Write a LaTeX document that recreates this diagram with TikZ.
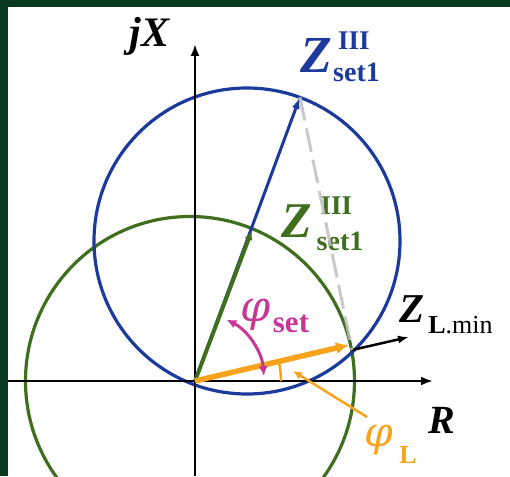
\documentclass[tikz,border=0pt]{standalone}
\usepackage{fontspec}
\setmainfont{Liberation Serif}
\newfontfamily\phifont{DejaVu Serif}
\usetikzlibrary{arrows.meta}
\definecolor{framecol}{RGB}{10,58,34}
\definecolor{zblue}{RGB}{28,58,156}
\definecolor{zgreen}{RGB}{62,110,30}
\definecolor{zorange}{RGB}{247,163,27}
\definecolor{zmag}{RGB}{200,55,150}
\definecolor{zgray}{RGB}{192,192,192}
\newcommand{\fs}[1]{\fontsize{#1}{#1}\selectfont}
\begin{document}
\begin{tikzpicture}[x=1pt,y=1pt,
  axisline/.style={line width=2.5pt,black,-{Latex[length=12pt,width=9pt]}},
  circ/.style={line width=3.2pt},
  lbl/.style={inner sep=0pt,anchor=base},
  lblc/.style={inner sep=0pt,anchor=center}]
\useasboundingbox (-195,-95) rectangle (315,381);
\fill[white] (-195,-95) rectangle (315,381);
\fill[framecol] (-195,374) rectangle (315,381);
\fill[framecol] (-195,-95) rectangle (-187,381);

% coordinates
\coordinate (O) at (0,0);
\coordinate (xs) at (-187,0);
\coordinate (xe) at (238,0);
\coordinate (ys) at (0,-95);
\coordinate (ye) at (0,337);
\coordinate (gc) at (-5,0);
\coordinate (bc) at (52,140);
\coordinate (Zb) at (105,284);
\coordinate (Zg) at (57,151);
\coordinate (I) at (157,31);
\coordinate (ZL) at (154,36);
\coordinate (Lm) at (214,44);
\coordinate (lf) at (172,-36);
\coordinate (lt) at (98,10);

% circles
\draw[circ,zgreen] (gc) circle[radius=164.5];
\draw[circ,zblue] (bc) circle[radius=153];

% axes
\draw[axisline] (xs) -- (xe);
\draw[axisline] (ys) -- (ye);

% vectors
\draw[line width=3pt,zblue,-{Latex[length=12pt,width=8pt]}] (O) -- (Zb);
\draw[line width=4pt,zgreen,-{Latex[length=10pt,width=8pt]}] (O) -- (Zg);
\draw[line width=5.5pt,zorange,-{Latex[length=13pt,width=12pt]}] (O) -- (ZL);
\draw[line width=2.5pt,black,-{Latex[length=11pt,width=8pt]}] (I) -- (Lm);

% angle arcs
\draw[line width=3pt,zmag,{Latex[length=10pt,width=9pt]}-{Latex[length=10pt,width=9pt]}]
  ([shift={(63:69)}]O) arc[start angle=63,end angle=4,radius=69];
\draw[line width=2.5pt,zorange] ([shift={(13:86)}]O) arc[start angle=13,end angle=0,radius=86];
\draw[line width=2.5pt,zorange,-{Latex[length=9pt,width=8pt]}] (lf) -- (lt);

% labels
\node[lbl] (jx) at (-45.5,334) {\fs{42}\bfseries\itshape jX};
\node[lbl,zblue] (zb) at (121,308) {\fs{52}\bfseries\itshape Z};
\node[lbl,zblue] (zbs) at (159,331) {\fs{27}\bfseries III};
\node[lbl,zblue] (zbi) at (161.5,299) {\fs{28}\bfseries set1};
\node[lbl,zgreen] (zg) at (101.5,143) {\fs{50}\bfseries\itshape Z};
\node[lbl,zgreen] (zgs) at (141.5,166) {\fs{27}\bfseries III};
\node[lbl,zgreen] (zgi) at (145,130) {\fs{28}\bfseries set1};
\node[lbl] (zl) at (217.5,59) {\fs{41}\bfseries\itshape Z};
\node[lbl] (zli) at (265.5,48) {\fs{26}{\bfseries L}.min};
\node[lblc,zmag] (ps) at (61,66) {\fs{43}\phifont\itshape φ};
\node[lbl,zmag] (psi) at (96,49) {\fs{31}\bfseries set};
\node[lblc,zorange] (pl) at (184,-59) {\fs{41}\phifont\itshape φ};
\node[lbl,zorange] (pli) at (213,-82) {\fs{26}\bfseries L};
\node[lbl] (r) at (247,-52) {\fs{40}\bfseries\itshape R};

% dashed construction line
\draw[line width=3pt,zgray,dash pattern=on 24pt off 8pt,opacity=0.85] (Zb) -- (I);
\end{tikzpicture}
\end{document}
